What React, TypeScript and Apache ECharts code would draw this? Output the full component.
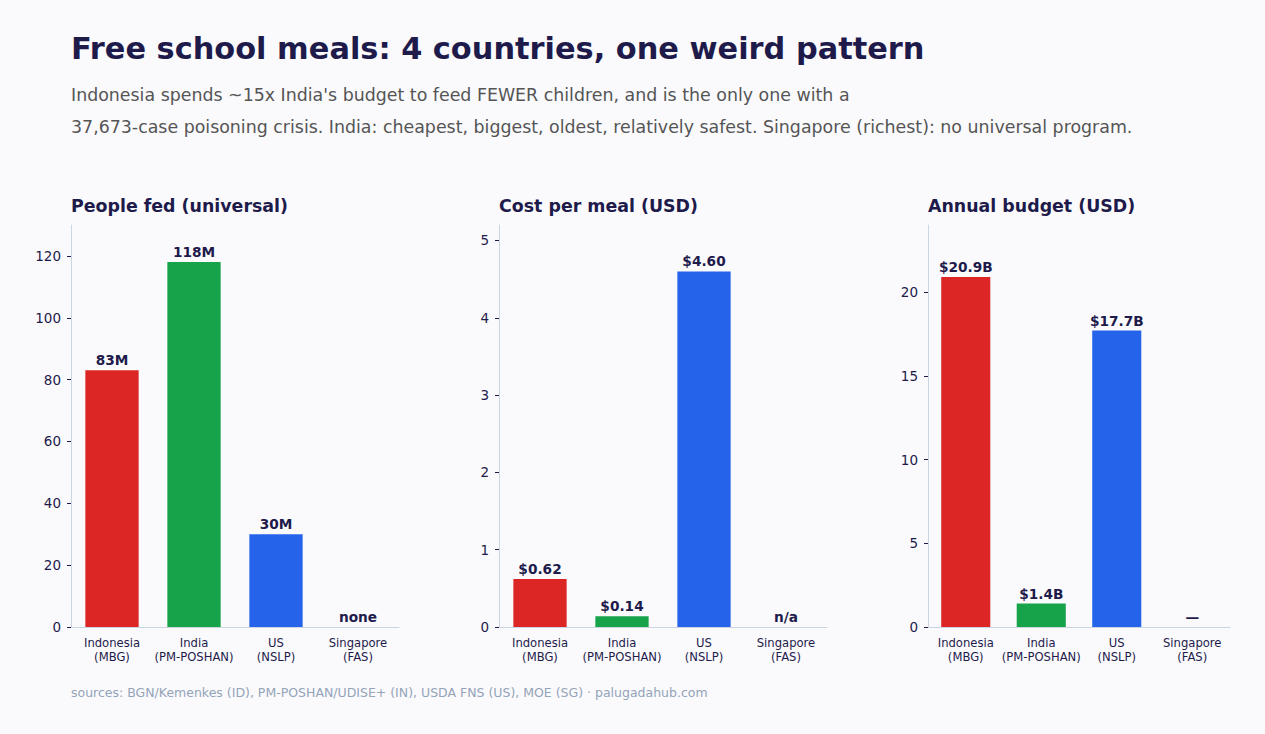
import React, { useEffect, useRef } from "react";
import * as echarts from "echarts";

const categories = ["Indonesia\n(MBG)", "India\n(PM-POSHAN)", "US\n(NSLP)", "Singapore\n(FAS)"];
const barColors = ["#dc2626", "#16a34a", "#2563eb", "#2563eb"];

const peopleFed = [83, 118, 30, 0];
const peopleLabels = ["83M", "118M", "30M", "none"];
const peopleTicks = [0, 20, 40, 60, 80, 100, 120];

const costPerMeal = [0.62, 0.14, 4.6, 0];
const costLabels = ["$0.62", "$0.14", "$4.60", "n/a"];
const costTicks = [0, 1, 2, 3, 4, 5];

const budget = [20.9, 1.4, 17.7, 0];
const budgetLabels = ["$20.9B", "$1.4B", "$17.7B", "—"];
const budgetTicks = [0, 5, 10, 15, 20];

const panelTitles = ["People fed (universal)", "Cost per meal (USD)", "Annual budget (USD)"];

const NAVY = "#1e1b4b";
const FONT = "DejaVu Sans";

export default function App() {
  const ref = useRef<HTMLDivElement>(null);
  useEffect(() => {
    document.body.style.margin = "0";
    const chart = echarts.init(ref.current!, null, { renderer: "svg" });
    const grids = [
      { left: 71, top: 225, width: 328, height: 402 },
      { left: 499, top: 225, width: 328, height: 402 },
      { left: 928, top: 225, width: 302, height: 402 },
    ];
    const maxes = [130, 5.2, 24];
    const tickSets = [peopleTicks, costTicks, budgetTicks];
    const values = [peopleFed, costPerMeal, budget];
    const labels = [peopleLabels, costLabels, budgetLabels];

    chart.setOption({
      animation: false,
      backgroundColor: "#fafafd",
      textStyle: { fontFamily: FONT },
      title: [
        {
          text: "Free school meals: 4 countries, one weird pattern",
          left: 71, top: 33, padding: 0,
          textStyle: { fontFamily: FONT, fontSize: 30.4, fontWeight: "bold", color: NAVY },
        },
        {
          text: "Indonesia spends ~15x India's budget to feed FEWER children, and is the only one with a\n37,673-case poisoning crisis. India: cheapest, biggest, oldest, relatively safest. Singapore (richest): no universal program.",
          left: 71, top: 79, padding: 0,
          textStyle: { fontFamily: FONT, fontSize: 17.4, fontWeight: "normal", color: "#555555", lineHeight: 32 },
        },
        ...panelTitles.map((t, i) => ({
          text: t,
          left: grids[i].left, top: 197, padding: 0,
          textStyle: { fontFamily: FONT, fontSize: 17.4, fontWeight: "bold", color: NAVY },
        })),
        {
          text: "sources: BGN/Kemenkes (ID), PM-POSHAN/UDISE+ (IN), USDA FNS (US), MOE (SG) · palugadahub.com",
          left: 71, top: 686, padding: 0,
          textStyle: { fontFamily: FONT, fontSize: 12.5, fontWeight: "normal", color: "#94a3b8" },
        },
      ],
      grid: grids,
      xAxis: grids.map((_, i) => ({
        type: "category",
        gridIndex: i,
        data: categories,
        axisLine: { lineStyle: { color: "#cbd5e1", width: 1 } },
        axisTick: { alignWithLabel: true, length: 4, lineStyle: { color: NAVY } },
        axisLabel: { fontFamily: FONT, fontSize: 11.6, color: NAVY, lineHeight: 14, margin: 9, interval: 0 },
      })),
      yAxis: grids.map((_, i) => ({
        type: "value",
        gridIndex: i,
        min: 0,
        max: maxes[i],
        splitLine: { show: false },
        axisLine: { show: true, lineStyle: { color: "#cbd5e1", width: 1 } },
        axisTick: { show: true, length: 4, lineStyle: { color: NAVY }, customValues: tickSets[i] },
        axisLabel: { fontFamily: FONT, fontSize: 13.5, color: NAVY, margin: 10, customValues: tickSets[i] },
      })),
      series: grids.map((_, i) => ({
        type: "bar",
        xAxisIndex: i,
        yAxisIndex: i,
        barWidth: "65%",
        data: values[i].map((v, j) => ({ value: v, itemStyle: { color: barColors[j] } })),
        label: {
          show: true,
          position: "top",
          distance: 3,
          fontFamily: FONT,
          fontSize: 13.7,
          fontWeight: "bold",
          color: NAVY,
          formatter: (p: any) => labels[i][p.dataIndex],
        },
      })),
    });
    return () => chart.dispose();
  }, []);
  return <div ref={ref} style={{ width: 1265, height: 734 }} />;
}
